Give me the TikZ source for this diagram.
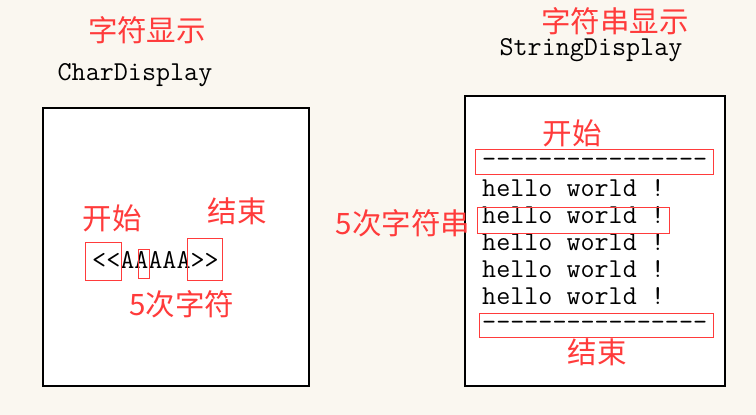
\documentclass[tikz,border=0pt]{standalone}
\usepackage{fontspec}
\newfontfamily\cjk{Noto Sans CJK SC}
\definecolor{bg}{HTML}{FAF7F0}
\definecolor{lbl}{HTML}{FF3B3B}
\tikzset{
  panel/.style={draw=black, line width=2pt, fill=white},
  mark box/.style={draw=lbl, line width=1pt},
  redlabel/.style={text=lbl, font=\cjk\fontsize{29.5}{31}\selectfont, inner sep=0pt},
  mono/.style={text=black, font=\ttfamily\fontsize{27.3}{29}\selectfont, inner sep=0pt},
}
\begin{document}
\begin{tikzpicture}[x=1pt,y=-1pt]
\fill[bg] (0,0) rectangle (756,415);
\useasboundingbox (0,0) rectangle (756,415);
% panels
\draw[panel] (43,108) rectangle (309,386);
\draw[panel] (465,96) rectangle (725,386);
% titles
\node[redlabel] (t1) at (147,30) {字符显示};
\node[mono] (t1e) at (135,75) {CharDisplay};
\node[redlabel] (t2) at (615,21) {字符串显示};
\node[mono] (t2e) at (591,50) {StringDisplay};
% left panel
\node[redlabel] (ls) at (112,218) {开始};
\node[redlabel] (le) at (237,211) {结束};
\node[mono, anchor=mid west] (chars) at (92,266) {<{}<AAAAA>{}>};
\node[redlabel] (l5) at (182,304) {5次字符};
\draw[mark box] (85,242) rectangle (121,280);
\draw[mark box] (138,249) rectangle (149,278);
\draw[mark box] (187,238) rectangle (222,280);
% right panel
\node[redlabel] (rs) at (572,133) {开始};
\node[mono, anchor=mid west] (d1) at (482,165) {----------------};
\node[mono, anchor=mid west] (h1) at (482,194) {hello world !};
\node[mono, anchor=mid west] (h2) at (482,221) {hello world !};
\node[mono, anchor=mid west] (h3) at (482,248) {hello world !};
\node[mono, anchor=mid west] (h4) at (482,275) {hello world !};
\node[mono, anchor=mid west] (h5) at (482,302) {hello world !};
\node[mono, anchor=mid west] (d2) at (482,328) {----------------};
\node[redlabel] (re) at (597,352) {结束};
\node[redlabel] (r5) at (403,223) {5次字符串};
\draw[mark box] (475,149) rectangle (713,174);
\draw[mark box] (477,207) rectangle (669,233);
\draw[mark box] (479,313) rectangle (713,337);
\end{tikzpicture}
\end{document}
